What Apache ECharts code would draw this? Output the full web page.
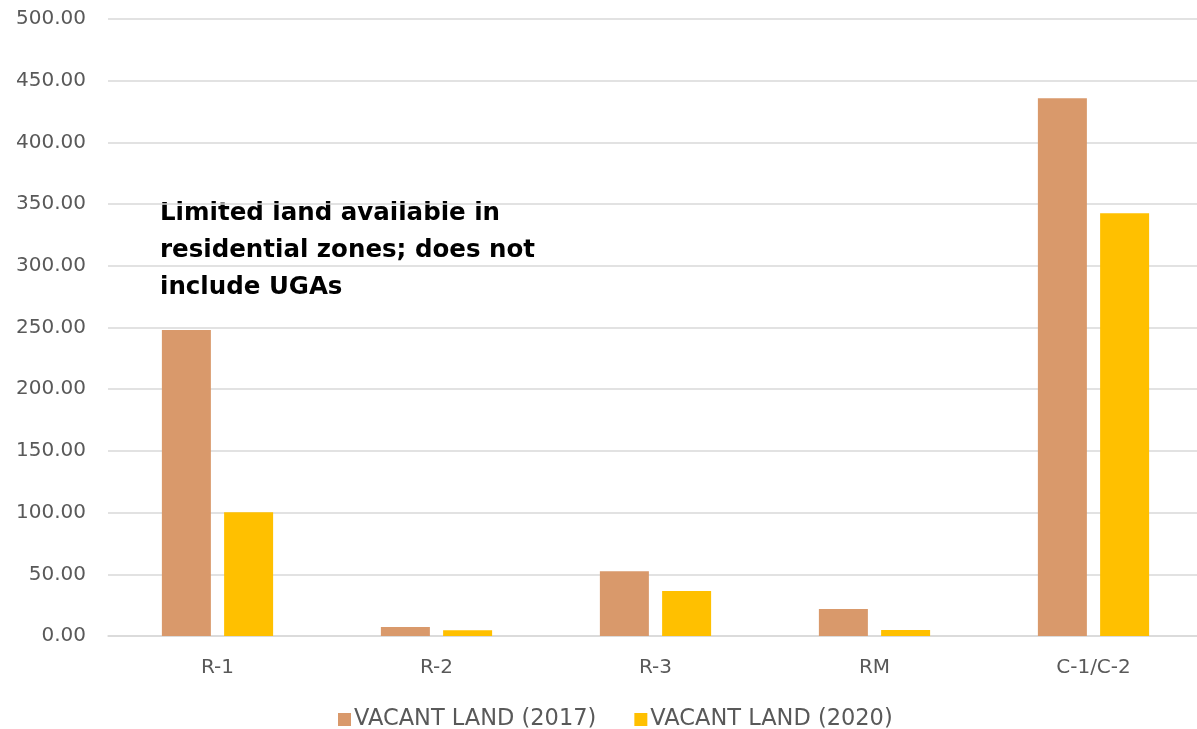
<!DOCTYPE html>
<html><head><meta charset="utf-8">
<script src="https://cdn.jsdelivr.net/npm/echarts@6/dist/echarts.min.js"></script>
<style>html,body{margin:0;padding:0;background:#fff}#c{width:1197px;height:729px}</style>
</head><body><div id="c"></div>
<script>
const categories = ['R-1', 'R-2', 'R-3', 'RM', 'C-1/C-2'];
const vacant2017 = [248, 7.3, 52.4, 21.9, 435.7];
const vacant2020 = [100.2, 4.6, 36.5, 4.9, 342.5];
const seriesNames = ['VACANT LAND (2017)', 'VACANT LAND (2020)'];
const chart = echarts.init(document.getElementById('c'));
const font = '"DejaVu Sans", sans-serif';
chart.setOption({
  animation: false,
  grid: { left: 108, width: 1095, top: 19, bottom: 93, outerBoundsMode: 'none', containLabel: false },
  legend: {
    top: 703, left: 333, itemWidth: 13, itemHeight: 13, itemGap: 38,
    icon: 'rect',
    textStyle: { color: '#595959', fontSize: 22.5, fontFamily: font, padding: [0, 0, 0, -2] },
    data: seriesNames
  },
  xAxis: {
    type: 'category', data: categories,
    axisLine: { lineStyle: { color: '#d9d9d9', width: 1.5 } },
    axisTick: { show: false },
    axisLabel: { color: '#595959', fontSize: 20, fontFamily: font, margin: 22 }
  },
  yAxis: {
    type: 'value', min: 0, max: 500, interval: 50,
    axisLine: { show: false }, axisTick: { show: false },
    splitLine: { lineStyle: { color: '#d9d9d9', width: 1.5 } },
    axisLabel: { color: '#595959', fontSize: 20, fontFamily: font, margin: 22,
      formatter: v => v.toFixed(2) }
  },
  series: [
    { name: seriesNames[0], type: 'bar', data: vacant2017, barWidth: 49, barGap: '27%',
      itemStyle: { color: '#D9996B' } },
    { name: seriesNames[1], type: 'bar', data: vacant2020, barWidth: 49,
      itemStyle: { color: '#FFC000' } }
  ],
  graphic: [{
    type: 'text', left: 160, top: 195,
    style: {
      text: 'Limited land available in\nresidential zones; does not\ninclude UGAs',
      fontSize: 24.5, fontWeight: 'bold', fontFamily: font, fill: '#000', lineHeight: 37
    }
  }]
});
</script></body></html>
